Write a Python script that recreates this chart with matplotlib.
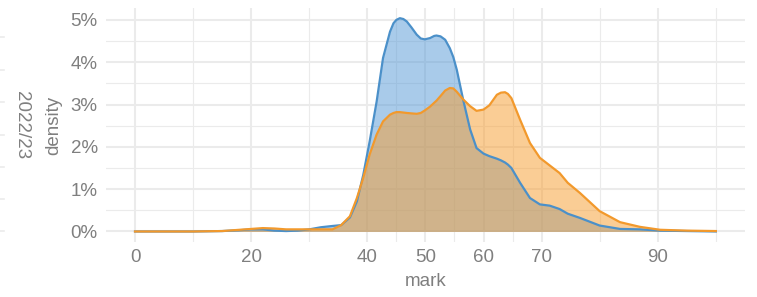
import matplotlib
matplotlib.use("Agg")
import matplotlib.pyplot as plt
from matplotlib.lines import Line2D

plt.rcParams['font.family'] = ['Liberation Sans', 'DejaVu Sans']

# density curves (mark -> density in %)
mark = [0, 5, 10, 15, 18, 20, 22, 24, 26, 28, 30, 32, 34, 35.5, 37, 38.2, 39.3,
        40.4, 41.6, 42.7, 43.9, 44.5, 45, 45.6, 46.2, 46.8, 47.6, 48.5, 49.2,
        49.9, 50.8, 51.5, 51.9, 52.6, 53.4, 54.2, 54.8, 55.4, 56.5, 57.7, 58.8,
        60, 61, 62.3, 63, 63.7, 64.2, 64.8, 66.3, 68, 69.7, 71.4, 73.1, 74.5,
        76.6, 80, 83.5, 86.9, 90.4, 95, 100]
blue = [0, 0, 0, 0.01, 0.03, 0.05, 0.05, 0.02, 0.01, 0.02, 0.05, 0.10, 0.13,
        0.15, 0.33, 0.71, 1.34, 2.13, 3.07, 4.10, 4.72, 4.92, 5.00, 5.04, 5.02,
        4.96, 4.82, 4.65, 4.56, 4.54, 4.57, 4.62, 4.63, 4.61, 4.53, 4.33, 4.12,
        3.82, 3.11, 2.41, 1.97, 1.84, 1.78, 1.72, 1.68, 1.63, 1.58, 1.50, 1.15,
        0.79, 0.64, 0.61, 0.53, 0.42, 0.32, 0.14, 0.06, 0.05, 0.02, 0.01, 0.0]
orange = [0, 0, 0, 0.01, 0.04, 0.06, 0.08, 0.07, 0.05, 0.05, 0.05, 0.05, 0.05,
          0.15, 0.36, 0.79, 1.27, 1.82, 2.29, 2.60, 2.76, 2.80, 2.82, 2.82,
          2.81, 2.80, 2.79, 2.78, 2.80, 2.86, 2.95, 3.04, 3.09, 3.20, 3.33,
          3.39, 3.38, 3.30, 3.12, 2.96, 2.85, 2.88, 2.98, 3.23, 3.28, 3.29,
          3.25, 3.15, 2.64, 2.09, 1.74, 1.56, 1.38, 1.15, 0.91, 0.48, 0.22,
          0.11, 0.04, 0.02, 0.01]

x_major = [0, 20, 40, 50, 60, 70, 90]
x_minor = [10, 30, 45, 55, 65, 80, 100]
y_major = [0, 1, 2, 3, 4, 5]
y_minor = [0.5, 1.5, 2.5, 3.5, 4.5]
facet = "2022/23"

grey = "#7f7f7f"
fig = plt.figure(figsize=(7.57, 2.97), dpi=100)
ax = fig.add_axes([0.140, 0.185, 0.844, 0.788])

# grid first (theme_minimal look)
for v in x_major:
    ax.axvline(v, color="#ebebeb", lw=1.5, zorder=0)
for v in x_minor:
    ax.axvline(v, color="#ebebeb", lw=0.8, zorder=0)
for v in y_major:
    ax.axhline(v, color="#ebebeb", lw=1.5, zorder=0)
for v in y_minor:
    ax.axhline(v, color="#ebebeb", lw=0.8, zorder=0)

ax.fill_between(mark, blue, color="#5599d7", alpha=0.5, lw=0, zorder=1)
ax.fill_between(mark, orange, color="#f79d2d", alpha=0.5, lw=0, zorder=2)
ax.plot(mark, blue, color="#4b90c9", lw=1.6, zorder=3, solid_joinstyle="round")
ax.plot(mark, orange, color="#f2992c", lw=1.6, zorder=4, solid_joinstyle="round")

ax.set_xlim(-5, 105)
ax.set_ylim(-0.25, 5.28)
ax.set_xticks(x_major)
ax.set_yticks(y_major)
ax.set_yticklabels([f"{v}%" for v in y_major])
ax.tick_params(length=0, labelsize=13.5, labelcolor=grey)
ax.tick_params(axis="x", pad=5)
ax.tick_params(axis="y", pad=6)
for s in ax.spines.values():
    s.set_visible(False)

ax.set_xlabel("mark", fontsize=13.5, color=grey, labelpad=5)
ax.set_ylabel("density", fontsize=13.5, color=grey, labelpad=6)
fig.text(0.029, 0.579, facet, rotation=-90, fontsize=13.5, color=grey,
         ha="center", va="center")

# bits of the neighbouring panel's grid peeking in at the left edge
for py in [37, 70, 102, 135, 167, 199, 231]:
    fig.add_artist(Line2D([0, 0.005], [1 - py / 297, 1 - py / 297],
                          color="#ebebeb", lw=1.2))

fig.savefig("out.png", dpi=100)
